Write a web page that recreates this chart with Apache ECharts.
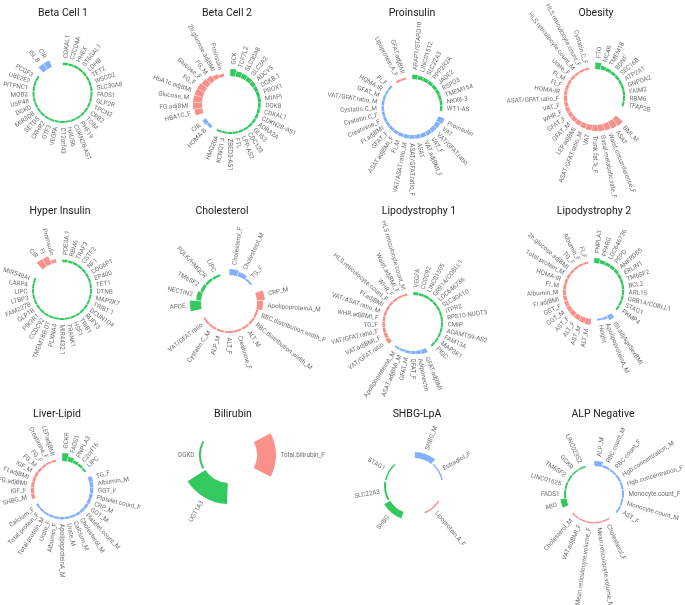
<!DOCTYPE html>
<html><head><meta charset="utf-8">
<script src="https://cdn.jsdelivr.net/npm/echarts@6/dist/echarts.min.js"></script>
<style>html,body{margin:0;padding:0;background:#fff}#c{width:685px;height:605px}</style>
</head><body><div id="c"></div>
<script>
// ---------- DATA ----------
// Beta Cell 1
const b1Green = ['CDKAL1','C2CD4A','HHEX','ST6GAL1','LDHB','TET2','WSCD2','SLC30A8','FADS1','GLP2R','TPCN2','CRB2','TCIM','PHF19','CDKN2B-AS1','HAUS6','C12orf43','VEGFA','GTF3','CRHR2','SETD5','MIR3DB','DGKD','USP48','MOB2','PITPNC1','UBE2E2','PCGF3'];
const b1GreenVal = [2.6,2.4,2.3,2.2,2.2,2.1,2.1,2.1,2,2,2,2,2,2,2,2,2,2,2,2,2,2,2,2,2,2,2,2];
const b1Blue = ['ISI_B','CIR'];
const b1BlueVal = [7,7];
// Beta Cell 2
const b2Green = ['GCK','TCF7L2','SLC30A8','SLC2A2','ADCY5','DGKB.1','PROX1','MIAPI','DGKB','CDKAL1','CDKN2B-AS1','ADRA2A','GLIS3','CDC123','LPP-AS2','FTL','ZBED3-AS1','KCNQ1.4','HMG20A'];
const b2GreenVal = [7,5.5,5,4.5,4,3.5,3.2,3,2.8,2.6,2.5,2.4,2.3,2.2,2.2,2.1,2.1,2,2];
const b2Blue = ['HOMA-B','CIR'];
const b2BlueVal = [3,4];
const b2Red = ['HBA1C_F','FG.adjBMI','Glucose_M','HbA1c.adjBMI','FG_F','Glucose_F','FG_M','2h.glucose.adjBMI','Proinsulin'];
const b2RedVal = [8,9,9,8.5,8,7,6,4.5,3];
// Proinsulin
const prGreen = ['ARAP1/STARD10','LINC01512','SLC22A3','PPP2R2A','JADE2','RSPO3','TMEM154','NKX6-3','WT1-AS'];
const prGreenVal = [4.5,4,3.6,3.4,3.2,3,2.8,2.6,2.4];
const prBlue = ['Proinsulin','VAT','VAT/GFAT.ratio','VAT_F','VAT.adjBMI_F','ASAT','ASAT/GFAT.ratio_F','VAT/ASAT.ratio_M','FI_M','ASAT.adjBMI_F','GFAT_F','FI.adjBMI','Creatinine_F','Cystatin.C_F','Cystatin.C_M','VAT/GFAT.ratio_M','GFAT_M','HOMA-IR','FI_F'];
const prBlueVal = [6.5,5,4.6,4.4,4.2,4,3.8,3.6,3.4,3.2,3,2.8,2.7,2.6,2.5,2.4,2.3,2.2,2.1];
const prRed = ['Lipoprotein.A_F','GFAT.adjBMI'];
const prRedVal = [2.2,2.2];
// Obesity
const obGreen = ['FTO','MC4R','TMEM18','BDNF','SEC16B','ATP2A1','GNPDA2','FAIM2','RBM6','TFAP2B'];
const obGreenVal = [6.5,3.8,3.2,2.8,2.6,2.4,2.3,2.2,2.1,2];
const obRed = ['BMI_M','ASAT','Waist.circumference_F','Basal.metabolic.rate_F','Trunk.fat.%_F','VAT','ASAT/GFAT.ratio_M','LEP.adjBMI','GFAT_M','GFAT_F','WHR_F','VAT_F','ASAT/GFAT.ratio_F','HOMA-IR','FI_F','FI_M','Urate_F','HLS.reticulocyte.count_M','HLS.reticulocyte.count_F','Cystatin.C_F'];
const obRedVal = [9,8,7,6.5,6,5.5,5,4.6,4.3,4,3.8,3.5,3.3,3.1,2.9,2.7,2.5,2.3,2.2,2.1];
// Hyper Insulin
const hiGreen = ['PDE3A.1','RBM6','TRAF3','CSTF2','NF1','COG6P1','EP400','TET1','DTNB','MAP2K7','TRIB1.1','DCUN1D4','RUFY3','TRIB1','HSF1','TRANK1','MIR4432.1','PLXNA4','TMEM18B-DT','CCDC92','PIK3R1','GLP1R','FAM227B','LTBP3','LIPC','LARP4','MIR548AI'];
const hiGreenVal = [2.6,2.3,2.2,2.2,2.1,2.1,2,2,2,2,2,2,2,2,2,2,2,2,2,2,2,2,2,2,2,2,2];
const hiRed = ['CIR','FI','Proinsulin'];
const hiRedVal = [9,8.5,3.5];
// Cholesterol
const chBlue = ['Cholesterol_F','Cholesterol_M','TG_F'];
const chBlueVal = [6,4.5,2];
const chRed = ['CRP_M','ApolipoproteinA_M','RBC.distribution.width_F','RBC.distribution.width_M','ALT_M','Creatinine_F','ALT_F','ALP_M','Cystatin.C_M','VAT/GFAT.ratio'];
const chRedVal = [8,6,2.2,2.1,2,2,2,2,2,2];
const chGreen = ['APOE','NECTIN2','TM6SF2','POLK/HMGCR','LIPC'];
const chGreenVal = [11,5,3,2.5,2.2];
// Lipodystrophy 1
const l1Green = ['VEGFA','CCDC92','LINC01505','GRB14/COBLL1','LOC646736','SLC30A10','ITPR2','RPS10-NUDT3','CMIP','ADAMTS9-AS2','FAM13A','MAP3K1','PIGC'];
const l1GreenVal = [3,2.6,2.4,2.3,2.2,2.2,2.1,2.1,2,2,2,2,2];
const l1Blue = ['GFAT.adjBMI','Adiponectin','GFAT_F','GFAT_M','ASAT.adjBMI_M','ApolipoproteinA_M'];
const l1BlueVal = [4.5,3.5,3,2.6,2.3,2.1];
const l1Red = ['VAT/GFAT.ratio','VAT.adjBMI_F','VAT/GFAT.ratio_F','TG_F','WHR.adjBMI_F','VAT/ASAT.ratio_M','FI.adjBMI','HLS.reticulocyte.count_F','WHR_F','Waist.adjBMI_F','HLS.reticulocyte.count_M'];
const l1RedVal = [4,3.2,2.9,2.7,2.5,2.4,2.3,2.2,2.1,2,2];
// Lipodystrophy 2
const l2Green = ['PNPLA3','PPARG','LOC646736','PEPD','ANKRD55','ERLIN1','TM6SF2','BCL2','ARL15','GRB14/COBLL1','STAG1','PKMP4'];
const l2GreenVal = [5,3.6,3.2,3,2.8,2.6,2.4,2.3,2.2,2.1,2,2];
const l2Blue = ['ISI.adjAgeSexBMI','ApolipoproteinA_M','Height'];
const l2BlueVal = [5,2.5,2];
const l2Red = ['ALT_M','AST_M','ALT_F','AST_F','GGT_M','GGT_F','FI.adjBMI','Albumin_M','FI_M','HOMA-IR','Total.protein_M','2h.glucose.adjBMI','TG_F','Albumin_F','FI_F'];
const l2RedVal = [6,5.5,5,4.6,4.2,3.8,3.4,3.1,2.9,2.7,2.5,2.3,2.2,2.1,2];
// Liver-Lipid
const llGreen = ['GCKR','FADS1','PNPLA3','C2orf16','LIPC'];
const llGreenVal = [8,5,3,2.5,2];
const llBlue = ['TG_F','Albumin_M','GGT_F','Platelet.count_F','CRP_M','GGT_M','Platelet.count_M','Cholesterol_M','Calcium_M','Urate_M','ApolipoproteinA_M','Albumin_F','Urate_F','Total.protein_M','Total.protein_F','Calcium_F'];
const llBlueVal = [4,3.6,3.3,3.1,3,2.9,2.8,2.7,2.6,2.5,2.4,2.3,2.2,2.1,2,2];
const llRed = ['SHBG_M','IGF_F','FG.adjBMI','FI.adjBMI','IGF_M','FG_M','FG_F','Creatinine_F','LEP.adjBMI'];
const llRedVal = [3.5,3.2,3,2.8,2.6,2.4,2.2,2.1,2];
// Bilirubin
const biRed = ['Total.bilirubin_F'];
const biRedVal = [19];
const biGreen = ['UGT1A3','DGKD'];
const biGreenVal = [21,2];
// SHBG-LpA
const shBlue = ['SHBG_M','Estradiol_F'];
const shBlueVal = [6,1.5];
const shRed = ['Lipoprotein.A_F'];
const shRedVal = [1.5];
const shGreen = ['SHBG','SLC22A3','STAG1'];
const shGreenVal = [7,2,1.5];
// ALP Negative
const apBlue = ['ALP_M','RBC.count_M','RBC.count_F','Hgb.concentration_M','Hgb.concentration_F','Monocyte.count_F','Monocyte.count_M','AST_F'];
const apBlueVal = [5,2.2,2,2,2,2,1.8,1.8];
const apRed = ['Cholesterol_F','Mean.reticulocyte.volume_M','Mean.reticulocyte.volume_F','VAT.adjBMI_F','Cholesterol_M'];
const apRedVal = [1.5,1.5,1.5,1.5,1.5];
const apGreen = ['ABO','FADS1','LINC01625','TM6SF2','GCKR','LINC02352'];
const apGreenVal = [6,2,1.8,1.6,1.5,1.5];

// ---------- LAYOUT ----------
const COLORS = {g:'rgba(0,186,56,0.8)', b:'rgba(97,156,255,0.8)', r:'rgba(248,118,109,0.8)'};
const R0 = 28, RMAX = 40, LABEL_GAP = 4.5;
const panels = [
  {title:'Beta Cell 1', tx:63, ty:15, c:[62.5,93], groups:[['g',b1Green,b1GreenVal],['b',b1Blue,b1BlueVal],['r',[],[]]]},
  {title:'Beta Cell 2', tx:227, ty:15, c:[230,104], groups:[['g',b2Green,b2GreenVal],['b',b2Blue,b2BlueVal],['r',b2Red,b2RedVal]]},
  {title:'Proinsulin', tx:412, ty:15, c:[412,107], groups:[['g',prGreen,prGreenVal],['b',prBlue,prBlueVal],['r',prRed,prRedVal]]},
  {title:'Obesity', tx:596, ty:15, c:[595,97], groups:[['g',obGreen,obGreenVal],['b',[],[]],['r',obRed,obRedVal]]},
  {title:'Hyper Insulin', tx:60, ty:213, c:[62,290], groups:[['g',hiGreen,hiGreenVal],['b',[],[]],['r',hiRed,hiRedVal]]},
  {title:'Cholesterol', tx:222, ty:213, c:[229,303], groups:[['b',chBlue,chBlueVal],['r',chRed,chRedVal],['g',chGreen,chGreenVal]]},
  {title:'Lipodystrophy 1', tx:419, ty:213, c:[413,323], groups:[['g',l1Green,l1GreenVal],['b',l1Blue,l1BlueVal],['r',l1Red,l1RedVal]]},
  {title:'Lipodystrophy 2', tx:594, ty:213, c:[594,291], groups:[['g',l2Green,l2GreenVal],['b',l2Blue,l2BlueVal],['r',l2Red,l2RedVal]]},
  {title:'Liver-Lipid', tx:57, ty:416, c:[62,489], groups:[['g',llGreen,llGreenVal],['b',llBlue,llBlueVal],['r',llRed,llRedVal]]},
  {title:'Bilirubin', tx:233, ty:416, c:[229,455], groups:[['b',[],[]],['r',biRed,biRedVal],['g',biGreen,biGreenVal]]},
  {title:'SHBG-LpA', tx:417, ty:416, c:[414,486], groups:[['b',shBlue,shBlueVal],['r',shRed,shRedVal],['g',shGreen,shGreenVal]]},
  {title:'ALP Negative', tx:603, ty:416, c:[594,494], groups:[['b',apBlue,apBlueVal],['r',apRed,apRedVal],['g',apGreen,apGreenVal]]}
];

function makeLabelRenderer(names){
  return function(params, api){
    const pt = api.coord([api.value(0), api.value(1)]);
    const cs = params.coordSys;
    const th = Math.atan2(pt[1]-cs.cy, pt[0]-cs.cx);
    const right = Math.cos(th) >= -1e-6;
    return {
      type:'text', x:pt[0], y:pt[1], rotation: right ? -th : Math.PI - th,
      style:{text:names[params.dataIndex], align: right ? 'left' : 'right', verticalAlign:'middle',
             fontSize:6.3, fontFamily:'Roboto', fill:'#6e6e6e'}
    };
  };
}

const option = {animation:false, title:[], polar:[], angleAxis:[], radiusAxis:[], series:[]};
panels.forEach((p,i)=>{
  const cats=[], vals=[], labPts=[], labNames=[];
  let gapN = 0;
  p.groups.forEach(([col,names,values])=>{
    names.forEach((n,k)=>{
      cats.push(n);
      vals.push({value:values[k], itemStyle:{color:COLORS[col]}});
      labPts.push([values[k]+LABEL_GAP, cats.length-1]);
      labNames.push(n);
    });
    cats.push('gap'+(gapN++)); vals.push('-');
  });
  option.title.push({text:p.title, left:p.tx, top:p.ty-7, textAlign:'center', padding:0,
    textStyle:{fontSize:10.5, fontWeight:'normal', color:'#222', fontFamily:'Roboto'}});
  option.polar.push({center:p.c, radius:[R0, R0+RMAX]});
  option.angleAxis.push({polarIndex:i, type:'category', data:cats, startAngle:90, clockwise:true, boundaryGap:true,
    axisLine:{show:false}, axisTick:{show:false}, axisLabel:{show:false}, splitLine:{show:false}});
  option.radiusAxis.push({polarIndex:i, type:'value', min:0, max:RMAX,
    axisLine:{show:false}, axisTick:{show:false}, axisLabel:{show:false}, splitLine:{show:false}});
  option.series.push({type:'bar', coordinateSystem:'polar', polarIndex:i, data:vals, barCategoryGap:'8%', silent:true});
  option.series.push({type:'custom', coordinateSystem:'polar', polarIndex:i, data:labPts, silent:true, z:5,
    renderItem:makeLabelRenderer(labNames)});
});
const chart = echarts.init(document.getElementById('c'), null, {renderer:'canvas'});
chart.setOption(option);
</script></body></html>
